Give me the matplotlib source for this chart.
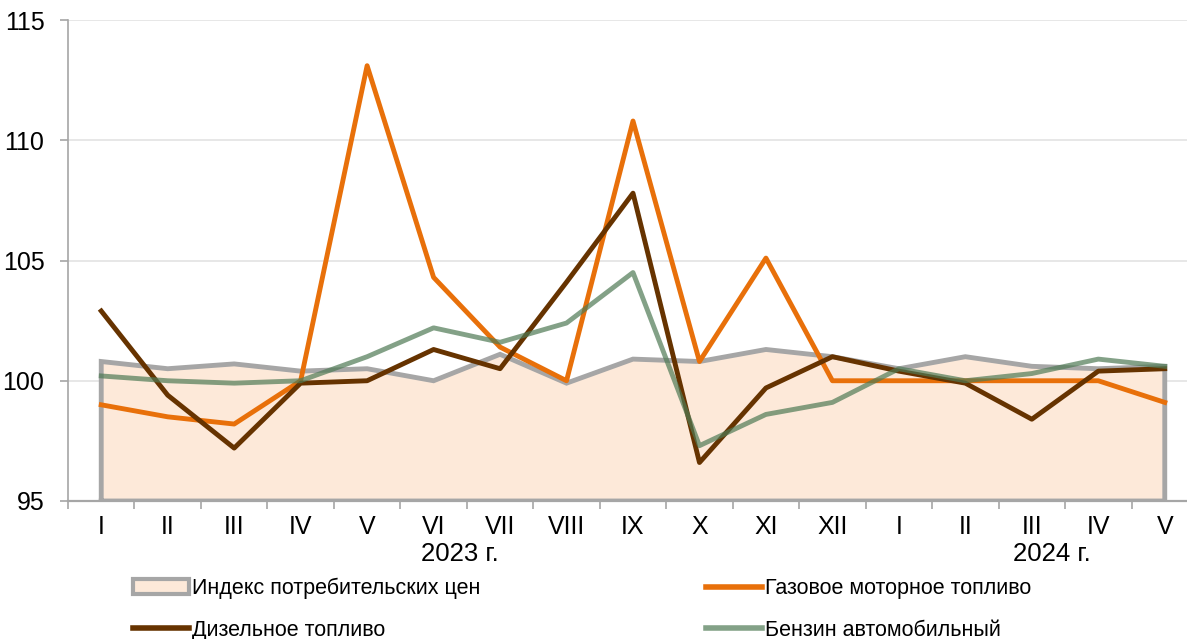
import matplotlib.pyplot as plt
from matplotlib.patches import Patch
from matplotlib.lines import Line2D

plt.rcParams['font.family'] = ['Liberation Sans', 'DejaVu Sans']

months = ["I", "II", "III", "IV", "V", "VI", "VII", "VIII", "IX", "X", "XI", "XII",
          "I", "II", "III", "IV", "V"]
cpi = [100.8, 100.5, 100.7, 100.4, 100.5, 100.0, 101.1, 99.9, 100.9, 100.8, 101.3, 101.0,
       100.5, 101.0, 100.6, 100.5, 100.6]
gas = [99.0, 98.5, 98.2, 100.0, 113.1, 104.3, 101.4, 100.0, 110.8, 100.8, 105.1, 100.0,
       100.0, 100.0, 100.0, 100.0, 99.1]
diesel = [102.9, 99.4, 97.2, 99.9, 100.0, 101.3, 100.5, 104.1, 107.8, 96.6, 99.7, 101.0,
          100.4, 99.9, 98.4, 100.4, 100.5]
petrol = [100.2, 100.0, 99.9, 100.0, 101.0, 102.2, 101.6, 102.4, 104.5, 97.3, 98.6, 99.1,
          100.5, 100.0, 100.3, 100.9, 100.6]
years = ["2023 г.", "2024 г."]
labels = ["Индекс потребительских цен", "Газовое моторное топливо",
          "Дизельное топливо", "Бензин автомобильный"]

c_gray = "#A6A6A6"
c_fill = "#FDE9D9"
c_gas = "#E8700A"
c_diesel = "#663300"
c_petrol = "#4F7A55"

W, H = 1187, 639
fig = plt.figure(figsize=(W / 100, H / 100), dpi=100)
ax = fig.add_axes([68 / W, (H - 501) / H, 1130 / W, 481 / H])

x = list(range(len(months)))
ymin = 95
ax.fill_between(x, cpi, ymin, color=c_fill, lw=0, zorder=1)
ax.plot([x[0]] + x + [x[-1], x[0]], [ymin] + cpi + [ymin, ymin],
        color=c_gray, lw=3.5, solid_joinstyle='miter', zorder=2)
ax.plot(x, gas, color=c_gas, lw=3.5, zorder=3)
ax.plot(x, diesel, color=c_diesel, lw=3.5, zorder=4)
ax.plot(x, petrol, color=c_petrol, lw=3.5, alpha=0.7, zorder=5)

ax.set_xlim(-0.5, len(months) - 0.5)
ax.set_ylim(95, 115)
ax.set_yticks([95, 100, 105, 110, 115])
ax.yaxis.grid(True, color="#E3E3E3", lw=1.2, zorder=0)
ax.set_axisbelow(True)

ax.set_xticks(x)
ax.set_xticklabels(months, fontsize=18)
ax.set_xticks([i - 0.5 for i in range(len(months) + 1)], minor=True)
ax.tick_params(axis='x', which='major', length=0, pad=10)
ax.tick_params(axis='x', which='minor', length=6, color=c_gray, width=1.2)
ax.tick_params(axis='y', length=6, color=c_gray, width=1.2, labelsize=18, pad=11)

for s in ["top", "right"]:
    ax.spines[s].set_visible(False)
ax.spines["left"].set_color(c_gray)
ax.spines["left"].set_linewidth(1.2)
ax.spines["bottom"].set_color(c_gray)
ax.spines["bottom"].set_linewidth(1.6)

ax.text(5.4, -0.11, years[0], transform=ax.get_xaxis_transform(),
        ha='center', va='center', fontsize=18.5)
ax.text(14.3, -0.11, years[1], transform=ax.get_xaxis_transform(),
        ha='center', va='center', fontsize=18.5)

h_cpi = Patch(facecolor=c_fill, edgecolor=c_gray, lw=3)
h_gas = Line2D([], [], color=c_gas, lw=4)
h_diesel = Line2D([], [], color=c_diesel, lw=4)
h_petrol = Line2D([], [], color=c_petrol, lw=4, alpha=0.7)
# legend fills column by column, so order it to read row by row
fig.legend([h_cpi, h_diesel, h_gas, h_petrol],
           [labels[0], labels[2], labels[1], labels[3]], ncol=2, loc='upper left',
           bbox_to_anchor=(133 / W, 1 - 578 / H), frameon=False,
           fontsize=15.5, handlelength=2.6, handletextpad=0.12,
           columnspacing=10.5, labelspacing=0.95, borderpad=0, borderaxespad=0)

fig.savefig("out.png", dpi=100)
